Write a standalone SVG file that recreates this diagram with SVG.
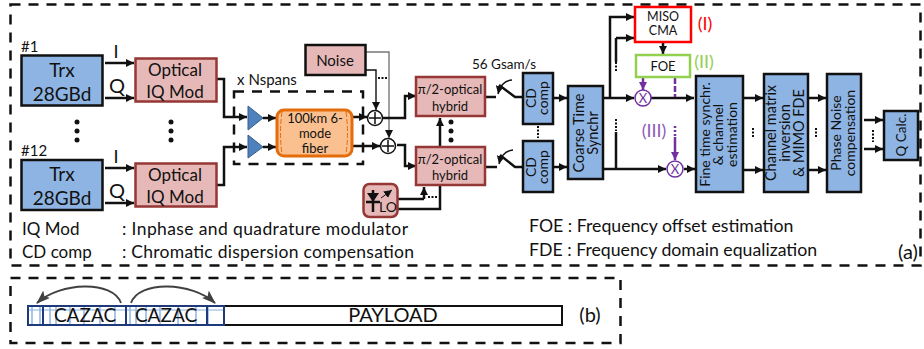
<svg xmlns="http://www.w3.org/2000/svg" width="924" height="349" viewBox="0 0 924 349">
<style>
text{font-family:Lato,"Open Sans","Liberation Sans",sans-serif;fill:#111;text-anchor:middle}
.l{text-anchor:start}
.blue{fill:#8eb4e3;stroke:#111;stroke-width:2.5}
.pink{fill:#e6b9b8;stroke:#953735;stroke-width:2.5}
.dash{fill:none;stroke:#111;stroke-width:2.5;stroke-dasharray:10 8}
.c{fill:none;stroke:#111;stroke-width:2.500}
.a{fill:none;stroke:#111;stroke-width:2.500;marker-end:url(#ah)}
.thin{fill:none;stroke:#111;stroke-width:1.4;marker-end:url(#ah)}
.p{fill:none;stroke:#7030a0;stroke-width:2.500}
.pa{fill:none;stroke:#7030a0;stroke-width:2.500;marker-end:url(#ahp)}
.cir{fill:#fff;stroke:#111;stroke-width:1.5}
.cirp{fill:#fff;stroke:#7030a0;stroke-width:1.5}
.dot{fill:#111}
.cell{fill:none;stroke:#1f3a7a;stroke-width:2}
.cl{fill:none;stroke:#8eb4e3;stroke-width:1.5}
</style>
<defs>
<marker id="ah" markerUnits="userSpaceOnUse" markerWidth="10" markerHeight="10" refX="8" refY="4" orient="auto"><path d="M0 0L8 4L0 8z" fill="#111"/></marker>
<marker id="ahp" markerUnits="userSpaceOnUse" markerWidth="10" markerHeight="10" refX="8" refY="4" orient="auto"><path d="M0 0L8 4L0 8z" fill="#7030a0"/></marker>
<marker id="ahg" markerUnits="userSpaceOnUse" markerWidth="24" markerHeight="12" refX="13" refY="5" orient="auto"><path d="M0 0L14 5L0 10L3 5z" fill="#404040"/></marker>
</defs>
<rect id="frame-a" class="dash" x="10.500" y="4.500" width="910" height="261"/>
<rect id="frame-b" class="dash" x="10.500" y="278" width="610" height="65"/>
<rect id="frame-spans" class="dash" x="234" y="91.500" width="129" height="72.500"/>
<g id="connectors">
<path class="a" d="M105 63H134"/><path class="a" d="M105 98H134"/>
<path class="a" d="M105 168H134"/><path class="a" d="M105 203H134"/>
<path class="a" d="M217 79H224V117H247"/><path class="a" d="M217 185H224V147H247"/>
<path class="a" d="M263 118H276"/><path class="a" d="M263 147H276"/>
<path class="a" d="M348 117H367"/><path class="a" d="M348 146H380"/>
<path class="thin" d="M366 70H376V110"/>
<path d="M366 52H389V138" fill="none" stroke="#777" stroke-width="1.400" marker-end="url(#ah)"/>
<path class="a" d="M383 118H405V96H416"/>
<path class="a" d="M397 145H405V166H416"/>
<path class="a" d="M440 147V118"/>
<path class="c" d="M398 199H424"/><path class="a" d="M424 199V187"/>
<path class="c" d="M398 209H440V185"/>
<path class="c" d="M485 97H496"/><path class="c" d="M485 167H497"/>
<path class="c" d="M499 85L515 97H523"/><path class="c" d="M500 155L515 167H523"/>
<path class="thin" d="M512 80Q501 81 498 94"/>
<path class="thin" d="M513 150Q502 151 499 164"/>
<path class="a" d="M553 98H567"/><path class="a" d="M553 167H567"/>
<path class="a" d="M603 98H634"/>
<path class="a" d="M610 98V17H634"/>
<path class="c" d="M616 62V38"/><path class="a" d="M616 38H634"/>
<path class="a" d="M603 169H666"/><path class="c" d="M616 169V132"/>
<path class="a" d="M651 98H694"/><path class="a" d="M684 169H695"/>
<path class="a" d="M663 42V54"/>
<path class="a" d="M744 98H763"/><path class="a" d="M744 170H763"/>
<path class="a" d="M808 98H826"/><path class="a" d="M808 170H826"/>
<path class="a" d="M864 120H883"/><path class="a" d="M864 149H883"/>
<path class="pa" d="M643 78V90"/>
<path class="p" d="M675 78V97" stroke-dasharray="6 2"/>
<path class="p" d="M675 126V138" stroke-dasharray="2 2"/>
<path class="pa" d="M675 137V160"/>
</g>
<g id="trx1"><rect class="blue" x="21.500" y="55.500" width="81" height="50"/><text x="62" y="77" font-size="19">Trx</text><text x="62" y="101" font-size="19">28GBd</text></g>
<g id="trx12"><rect class="blue" x="21.500" y="160" width="81" height="50"/><text x="62" y="181" font-size="19">Trx</text><text x="62" y="205" font-size="19">28GBd</text></g>
<g id="mod1"><rect class="pink" x="135.500" y="58.500" width="81" height="43"/><text x="175" y="76" font-size="17">Optical</text><text x="175" y="98" font-size="17">IQ Mod</text></g>
<g id="mod12"><rect class="pink" x="135.500" y="163.500" width="81" height="43"/><text x="175" y="181" font-size="17">Optical</text><text x="175" y="203" font-size="17">IQ Mod</text></g>
<g id="amp1"><path d="M248 106L263 118L248 130z" fill="#4f81bd" stroke="#385d8a"/></g>
<g id="amp2"><path d="M248 135L263 147L248 158z" fill="#4f81bd" stroke="#385d8a"/></g>
<g id="fiber"><rect x="277" y="110" width="75" height="46" rx="7" fill="#fac090" stroke="#e46c0a" stroke-width="3"/><path d="M282 112Q279 133 282 154M346 112Q349 133 346 154" fill="none" stroke="#e46c0a" stroke-dasharray="5 2"/><text x="315" y="122.500" font-size="13">100km 6-</text><text x="315" y="137.500" font-size="13">mode</text><text x="315" y="152.500" font-size="13">fiber</text></g>
<g id="noise"><rect x="305.500" y="45" width="60" height="30" fill="#e6b9b8" stroke="#111" stroke-width="2.500"/><text x="335" y="66" font-size="15">Noise</text></g>
<g id="plus1"><circle class="cir" cx="375" cy="118" r="7.500"/><path d="M369 118H381M375 112V124" stroke="#111" stroke-width="1.500"/></g>
<g id="plus2"><circle class="cir" cx="388" cy="146" r="7.500"/><path d="M382 146H394M388 140V152" stroke="#111" stroke-width="1.500"/></g>
<g id="hybrid1"><rect class="pink" x="416" y="77" width="69" height="39"/><text x="450" y="94" font-size="13">π/2-optical</text><text x="450" y="111" font-size="13">hybrid</text></g>
<g id="hybrid2"><rect class="pink" x="416" y="147" width="69" height="38"/><text x="450" y="164" font-size="13">π/2-optical</text><text x="450" y="180" font-size="13">hybrid</text></g>
<g id="lo"><rect x="363.500" y="184" width="34" height="33" rx="6" fill="#e6b9b8" stroke="#953735" stroke-width="2.500"/><path d="M367 193H379L373 202z" fill="#111"/><path d="M366 202H380M373 190V212" stroke="#111" stroke-width="2.500"/><path d="M381 198L392 190" stroke="#111" marker-end="url(#ah)"/><text x="388" y="212" font-size="14">LO</text></g>
<g id="cd1"><rect class="blue" x="523" y="73" width="30" height="51"/><text transform="translate(536 98) rotate(-90)" font-size="14">CD</text><text transform="translate(548 98) rotate(-90)" font-size="14">comp</text></g>
<g id="cd2"><rect class="blue" x="523" y="141" width="30" height="51"/><text transform="translate(536 167) rotate(-90)" font-size="14">CD</text><text transform="translate(548 167) rotate(-90)" font-size="14">comp</text></g>
<g id="coarse"><rect class="blue" x="568" y="86" width="35" height="93"/><text transform="translate(584 133) rotate(-90)" font-size="14.500">Coarse Time</text><text transform="translate(598 133) rotate(-90)" font-size="14.500">Synchr</text></g>
<g id="miso"><rect x="635" y="7" width="56" height="35" fill="#fff" stroke="#f00" stroke-width="2.500"/><text x="663" y="20.500" font-size="12.500">MISO</text><text x="663" y="35" font-size="12.500">CMA</text></g>
<g id="foe"><rect x="636" y="55" width="54" height="22" fill="#fff" stroke="#92d050" stroke-width="2.500"/><text x="663" y="71" font-size="13">FOE</text></g>
<g id="mix1"><circle class="cirp" cx="643" cy="98" r="8"/><text x="643" y="103" font-size="13" style="fill:#7030a0">X</text></g>
<g id="mix2"><circle class="cirp" cx="675" cy="169" r="8"/><text x="675" y="174" font-size="13" style="fill:#7030a0">X</text></g>
<g id="fine"><rect class="blue" x="696" y="76" width="47" height="116"/><text transform="translate(710 134.500) rotate(-90)" font-size="14">Fine time synchr.</text><text transform="translate(723 134.500) rotate(-90)" font-size="14">&amp;  channel</text><text transform="translate(737 134.500) rotate(-90)" font-size="14">estimation</text></g>
<g id="channel"><rect class="blue" x="764" y="74" width="44" height="118"/><text transform="translate(776 133) rotate(-90)" font-size="14.500">Channel matrix</text><text transform="translate(790 133) rotate(-90)" font-size="14.500">inversion</text><text transform="translate(804 133) rotate(-90)" font-size="14.500">&amp; MIMO FDE</text></g>
<g id="phase"><rect class="blue" x="827" y="74" width="34" height="118"/><text transform="translate(841 133) rotate(-90)" font-size="14">Phase Noise</text><text transform="translate(855 133) rotate(-90)" font-size="14">compensation</text></g>
<g id="qcalc"><rect class="blue" x="884" y="111" width="34" height="49"/><text transform="translate(906 135) rotate(-90)" font-size="13.500">Q Calc.</text></g>
<g id="labels">
<text class="l" x="21" y="52" font-size="15">#1</text><text class="l" x="21" y="156" font-size="15">#12</text>
<text x="116" y="58" font-size="18">I</text><text x="117" y="93" font-size="20">Q</text>
<text x="116" y="163" font-size="18">I</text><text x="117" y="198" font-size="20">Q</text>
<text x="267" y="85" font-size="15">x Nspans</text>
<text x="504" y="69" font-size="13.500">56 Gsam/s</text>
<text x="705" y="30" font-size="18" style="fill:#f00">(I)</text>
<text x="704" y="68" font-size="18" style="fill:#92d050">(II)</text>
<text x="654" y="137" font-size="18" style="fill:#8e5bb8">(III)</text>
<text class="l" x="22" y="235" font-size="17">IQ Mod</text><text class="l" x="122" y="235" font-size="17.500" textLength="286">: Inphase and quadrature modulator</text>
<text class="l" x="22" y="258" font-size="17">CD comp</text><text class="l" x="122" y="258" font-size="17.500" textLength="292">: Chromatic dispersion compensation</text>
<text class="l" x="529" y="232" font-size="17.700">FOE : Frequency offset estimation</text>
<text class="l" x="529" y="256" font-size="17.700">FDE : Frequency domain equalization</text>
<text x="908" y="259" font-size="20">(a)</text>
<text x="590" y="322" font-size="20">(b)</text>
</g>
<g id="dots">
<circle class="dot" cx="77" cy="122" r="2.500"/><circle class="dot" cx="77" cy="131" r="2.500"/><circle class="dot" cx="77" cy="140" r="2.500"/>
<circle class="dot" cx="171" cy="122" r="2.500"/><circle class="dot" cx="171" cy="131" r="2.500"/><circle class="dot" cx="171" cy="140" r="2.500"/>
<circle class="dot" cx="451" cy="122" r="2.500"/><circle class="dot" cx="451" cy="131" r="2.500"/><circle class="dot" cx="451" cy="140" r="2.500"/>
<path d="M378 78H388M428 197H438M538 126V138M616 62V72M616 119V131M753 128V138M816 128V138M873 130V142" stroke="#111" stroke-width="2" stroke-dasharray="2 1.500" fill="none"/>
</g>
<g id="frame-payload">
<rect x="28" y="306" width="534" height="19" fill="#fff" stroke="#111" stroke-width="2"/>
<path class="cl" d="M32 307V324M40 307V324M50 307V324M56 307V324M70 307V324M84 307V324M100 307V324M115 307V324M130 307V324M136 307V324M146 307V324M160 307V324M178 307V324M196 307V324M208 307V324"/>
<path class="cl" d="M28 310H224" stroke-opacity="0.700"/>
<rect class="cell" x="28" y="306" width="196" height="19"/>
<path class="cell" d="M43 306V325M126 306V325M207 306V325"/>
<text x="85" y="322" font-size="19">CAZAC</text><text x="166" y="322" font-size="19">CAZAC</text>
<text x="393" y="322" font-size="20">PAYLOAD</text>
<path d="M121 303C113 280 60 282 37 303" fill="none" stroke="#404040" stroke-width="1.800" marker-end="url(#ahg)"/>
<path d="M131 303C139 280 192 282 215 303" fill="none" stroke="#404040" stroke-width="1.800" marker-end="url(#ahg)"/>
</g>
</svg>
